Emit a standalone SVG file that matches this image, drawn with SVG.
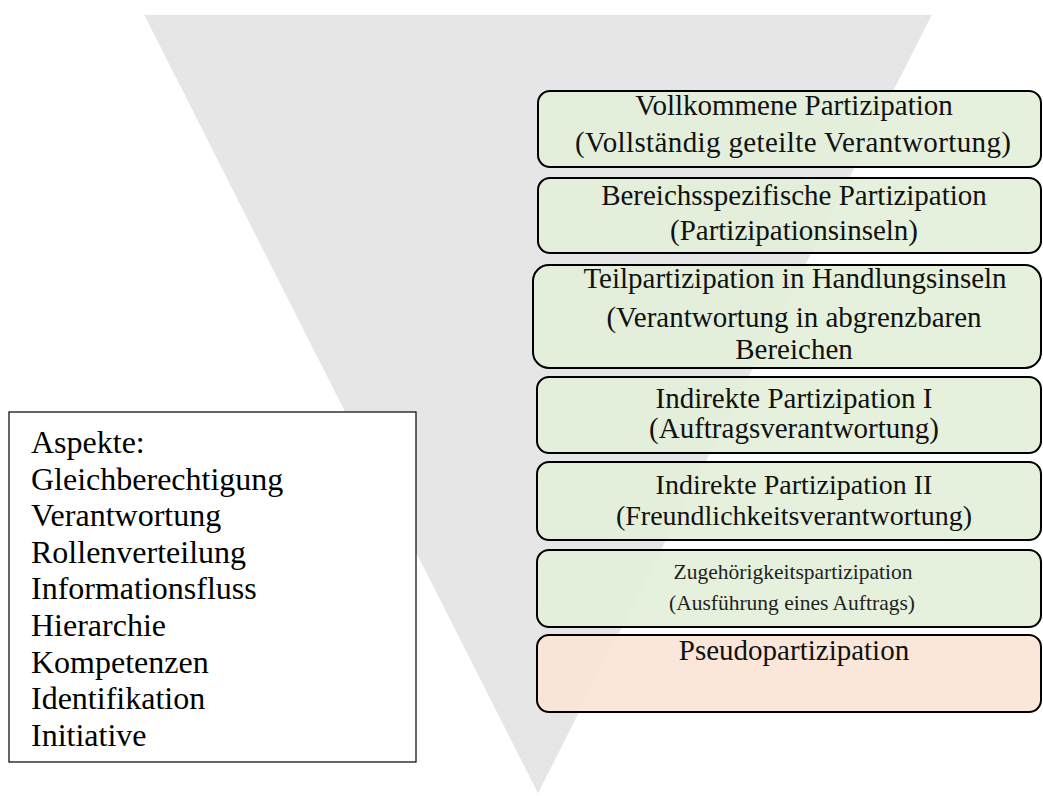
<svg xmlns="http://www.w3.org/2000/svg" width="1043" height="796" viewBox="0 0 1043 796">
<style>
  .tri { fill: #e7e6e6; stroke: #ffffff; stroke-width: 1.5; }
  .box { stroke: #000000; stroke-width: 2; fill-opacity: 0.9; }
  .green { fill: #e2efd9; }
  .peach { fill: #fbe4d5; }
  .t { font-family: "Liberation Serif", "Times New Roman", serif; fill: #111111; text-anchor: middle; }
  .t29 { font-size: 29px; }
  .t28 { font-size: 28px; }
  .t21 { font-size: 21.5px; fill: #222222; }
  .aspect { fill: #ffffff; stroke: #000000; stroke-width: 1.2; }
  .lt { font-family: "Liberation Serif", "Times New Roman", serif; font-size: 32px; fill: #000000; }
</style>
<rect width="1043" height="796" fill="#ffffff"/>
<g id="triangle">
  <polygon class="tri" points="143,14 933,14 538,795"/>
</g>
<g id="connectors"></g>
<g id="box1">
  <rect class="box green" x="538" y="91" width="503" height="76" rx="12"/>
  <text class="t t29" x="794" y="115">Vollkommene Partizipation</text>
  <text class="t t29" x="793" y="152" textLength="436" lengthAdjust="spacing">(Vollständig geteilte Verantwortung)</text>
</g>
<g id="box2">
  <rect class="box green" x="538" y="178" width="503" height="75" rx="12"/>
  <text class="t t29" x="794" y="205">Bereichsspezifische Partizipation</text>
  <text class="t t29" x="794" y="240">(Partizipationsinseln)</text>
</g>
<g id="box3">
  <rect class="box green" x="533" y="265" width="508" height="103" rx="16"/>
  <text class="t t29" x="795" y="288">Teilpartizipation in Handlungsinseln</text>
  <text class="t t29" x="794" y="327">(Verantwortung in abgrenzbaren</text>
  <text class="t t29" x="794" y="359">Bereichen</text>
</g>
<g id="box4">
  <rect class="box green" x="537" y="377" width="504" height="76" rx="12"/>
  <text class="t t29" x="794" y="408">Indirekte Partizipation I</text>
  <text class="t t29" x="794" y="438">(Auftragsverantwortung)</text>
</g>
<g id="box5">
  <rect class="box green" x="537" y="462" width="504" height="78" rx="12"/>
  <text class="t t28" x="794" y="494">Indirekte Partizipation II</text>
  <text class="t t28" x="794" y="525">(Freundlichkeitsverantwortung)</text>
</g>
<g id="box6">
  <rect class="box green" x="537" y="550" width="504" height="77" rx="12"/>
  <text class="t t21" x="793" y="579">Zugehörigkeitspartizipation</text>
  <text class="t t21" x="792" y="610">(Ausführung eines Auftrags)</text>
</g>
<g id="box7">
  <rect class="box peach" x="537" y="635" width="504" height="77" rx="12"/>
  <text class="t t29" x="794" y="660">Pseudopartizipation</text>
</g>
<g id="aspekte">
  <rect class="aspect" x="9" y="412" width="407" height="350"/>
  <text class="lt" x="31" y="453">Aspekte:</text>
  <text class="lt" x="31" y="489.6">Gleichberechtigung</text>
  <text class="lt" x="31" y="526.2">Verantwortung</text>
  <text class="lt" x="31" y="562.8">Rollenverteilung</text>
  <text class="lt" x="31" y="599.4">Informationsfluss</text>
  <text class="lt" x="31" y="636">Hierarchie</text>
  <text class="lt" x="31" y="672.6">Kompetenzen</text>
  <text class="lt" x="31" y="709.2">Identifikation</text>
  <text class="lt" x="31" y="745.8">Initiative</text>
</g>
</svg>
